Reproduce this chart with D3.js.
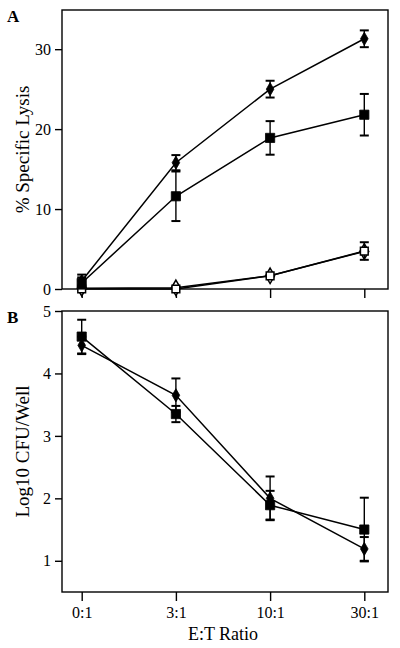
<!DOCTYPE html>
<html>
<head>
<meta charset="utf-8">
<script src="https://cdn.jsdelivr.net/npm/d3@7"></script>
<style>
  html, body { margin: 0; padding: 0; background: #fff; }
  svg { display: block; }
  text { font-family: "Liberation Serif", "DejaVu Serif", serif; fill: #000; }
</style>
</head>
<body>
<svg id="chart" width="400" height="648"></svg>
<script>
// ---- Data ----
const categories = ["0:1", "3:1", "10:1", "30:1"];

// Panel A: % Specific Lysis
const lysisFilledDiamond = [1.0, 15.8, 25.0, 31.3];
const lysisFilledDiamondErr = [0.8, 0.95, 1.05, 1.05];
const lysisFilledSquare = [0.75, 11.6, 18.9, 21.8];
const lysisFilledSquareErr = [0.7, 3.1, 2.1, 2.6];
const lysisOpenDiamond = [0.1, 0.15, 1.65, 4.7];
const lysisOpenDiamondErr = [0, 0, 0, 0];
const lysisOpenSquare = [0.0, 0.0, 1.65, 4.75];
const lysisOpenSquareErr = [0, 0, 0, 1.1];
const lysisTicks = [0, 10, 20, 30];

// Panel B: Log10 CFU/Well
const cfuDiamond = [4.45, 3.65, 2.0, 1.19];
const cfuDiamondErr = [0.14, 0.27, 0.35, 0.19];
const cfuSquare = [4.59, 3.35, 1.89, 1.5];
const cfuSquareErr = [0.27, 0.13, 0.23, 0.51];
const cfuTicks = [1, 2, 3, 4, 5];

// ---- Drawing ----
const svg = d3.select("#chart");

const x = d3.scalePoint().domain(categories).range([81.7, 364.3]);
const yA = d3.scaleLinear().domain([0, 34.9]).range([289, 10]);
const yB = d3.scaleLinear().domain([0.5, 5]).range([592, 311]);

const left = 62, right = 388;

function frame(y) {
  const [y0, y1] = y.range();
  svg.append("rect")
    .attr("x", left).attr("y", y1)
    .attr("width", right - left).attr("height", y0 - y1)
    .attr("fill", "none").attr("stroke", "#000").attr("stroke-width", 1.4);
}

function yAxis(y, ticks) {
  const g = svg.append("g").attr("transform", `translate(${left},0)`)
    .call(d3.axisLeft(y).tickValues(ticks).tickSize(7).tickPadding(4)
      .tickSizeOuter(0).tickFormat(d3.format("d")));
  g.select(".domain").remove();
  g.selectAll(".tick line").attr("stroke", "#000").attr("stroke-width", 1.4);
  g.selectAll(".tick text").style("font-size", "16px").attr("font-family", "Liberation Serif");
  return g;
}

function xAxis(y, labels) {
  const g = svg.append("g").attr("transform", `translate(0,${y.range()[0]})`)
    .call(d3.axisBottom(x).tickSize(9).tickPadding(6).tickSizeOuter(0)
      .tickFormat(labels ? d => d : () => ""));
  g.select(".domain").remove();
  g.selectAll(".tick line").attr("stroke", "#000").attr("stroke-width", 1.4);
  g.selectAll(".tick text").style("font-size", "16px").attr("font-family", "Liberation Serif");
  return g;
}

function series(y, vals, errs, shape, filled) {
  const pts = categories.map((c, i) => ({c, v: vals[i], e: errs[i]}));
  const line = d3.line().x(d => x(d.c)).y(d => y(d.v));
  svg.append("path").datum(pts).attr("d", line)
    .attr("fill", "none").attr("stroke", "#000").attr("stroke-width", 1.5);
  const eb = svg.append("g");
  pts.filter(d => d.e > 0).forEach(d => {
    const cx = x(d.c);
    eb.append("line").attr("x1", cx).attr("x2", cx)
      .attr("y1", y(d.v - d.e)).attr("y2", y(d.v + d.e))
      .attr("stroke", "#000").attr("stroke-width", 1.4);
    [d.v - d.e, d.v + d.e].forEach(v => {
      eb.append("line").attr("x1", cx - 4.5).attr("x2", cx + 4.5)
        .attr("y1", y(v)).attr("y2", y(v))
        .attr("stroke", "#000").attr("stroke-width", 2);
    });
  });
  const sym = shape === "square"
    ? d3.symbol().type(d3.symbolSquare).size(filled ? 85 : 60)
    : d3.symbol().type(d3.symbolDiamond).size(filled ? 50 : 70);
  svg.append("g").selectAll("path").data(pts).join("path")
    .attr("transform", d => `translate(${x(d.c)},${y(d.v)})`)
    .attr("d", sym)
    .attr("fill", filled ? "#000" : "#fff")
    .attr("stroke", "#000").attr("stroke-width", filled ? 0.8 : 1.5);
}

// Panel A
frame(yA);
yAxis(yA, lysisTicks);
xAxis(yA, false);
series(yA, lysisOpenDiamond, lysisOpenDiamondErr, "diamond", false);
series(yA, lysisOpenSquare, lysisOpenSquareErr, "square", false);
series(yA, lysisFilledSquare, lysisFilledSquareErr, "square", true);
series(yA, lysisFilledDiamond, lysisFilledDiamondErr, "diamond", true);

svg.append("text").attr("x", 7).attr("y", 22)
  .style("font-size", "17px").style("font-weight", "bold").text("A");
svg.append("text")
  .attr("transform", `translate(29,${(yA.range()[0] + yA.range()[1]) / 2}) rotate(-90)`)
  .attr("text-anchor", "middle").style("font-size", "19px").text("% Specific Lysis");

// Panel B
frame(yB);
yAxis(yB, cfuTicks);
xAxis(yB, true);
series(yB, cfuSquare, cfuSquareErr, "square", true);
series(yB, cfuDiamond, cfuDiamondErr, "diamond", true);

svg.append("text").attr("x", 7).attr("y", 323)
  .style("font-size", "17px").style("font-weight", "bold").text("B");
svg.append("text")
  .attr("transform", `translate(29,${(yB.range()[0] + yB.range()[1]) / 2}) rotate(-90)`)
  .attr("text-anchor", "middle").style("font-size", "19px").text("Log10 CFU/Well");

svg.append("text").attr("x", (left + right) / 2 - 2).attr("y", 640)
  .attr("text-anchor", "middle").style("font-size", "18px").text("E:T Ratio");
</script>
</body>
</html>
